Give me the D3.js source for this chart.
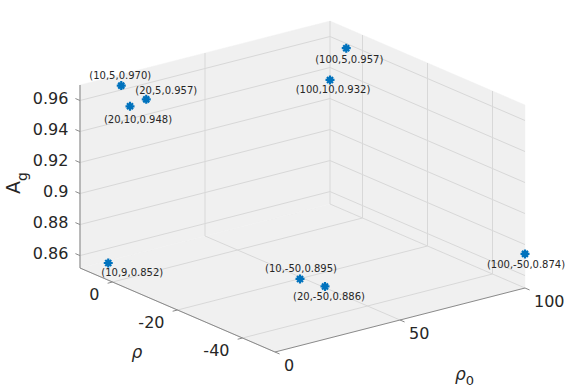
<!DOCTYPE html>
<html><head><meta charset="utf-8">
<script src="https://cdn.jsdelivr.net/npm/d3@7"></script>
<style>
body{margin:0;background:#fff}
text{font-family:"DejaVu Sans",sans-serif;fill:#262626}
</style>
</head><body>
<svg id="c" width="568" height="390"></svg>
<script>
// ---- data ----
const rho0 = [10, 20, 20, 10, 10, 20, 100, 100, 100];
const rho  = [5, 5, 10, 9, -50, -50, -50, 5, 10];
const Ag   = [0.970, 0.957, 0.948, 0.852, 0.895, 0.886, 0.874, 0.957, 0.932];
const xTicks = [0, 50, 100];
const yTicks = [-40, -20, 0];
const zTicks = [0.86, 0.88, 0.90, 0.92, 0.94, 0.96];
const zTickLabels = ["0.86", "0.88", "0.9", "0.92", "0.94", "0.96"];
const xDomain = [0, 100], yDomain = [-50, 10], zDomain = [0.852, 0.970];

// ---- layout (screen projection of the 3D box) ----
const O = [275, 352], EX = [250, -64], EY = [-195, -84], EZ = [0, -183];
const labelOffsets = [[-1,-10],[20,-8.5],[8,13],[24,9],[1,-10.5],[4,10],[1,11],[3,11],[3,10]];

const sx = d3.scaleLinear().domain(xDomain).range([0, 1]);
const sy = d3.scaleLinear().domain(yDomain).range([0, 1]);
const sz = d3.scaleLinear().domain(zDomain).range([0, 1]);
function P(x, y, z) {
  const a = sx(x), b = sy(y), c = sz(z);
  return [O[0] + a*EX[0] + b*EY[0] + c*EZ[0], O[1] + a*EX[1] + b*EY[1] + c*EZ[1]];
}
const [x0, x1] = xDomain, [y0, y1] = yDomain, [z0, z1] = zDomain;
const svg = d3.select("#c");
const line = d3.line();

// walls
const wallColor = "#f0f0f0";
const walls = [
  [P(x0,y0,z0), P(x1,y0,z0), P(x1,y1,z0), P(x0,y1,z0)],   // floor
  [P(x0,y1,z0), P(x1,y1,z0), P(x1,y1,z1), P(x0,y1,z1)],   // back wall
  [P(x1,y0,z0), P(x1,y1,z0), P(x1,y1,z1), P(x1,y0,z1)]    // side wall
];
svg.append("g").selectAll("path").data(walls).join("path")
  .attr("d", d => line(d) + "Z").attr("fill", wallColor).attr("stroke", wallColor).attr("stroke-width", 0.5);

// grid
const grid = [];
xTicks.forEach(x => { grid.push([P(x,y0,z0), P(x,y1,z0)]); grid.push([P(x,y1,z0), P(x,y1,z1)]); });
yTicks.forEach(y => { grid.push([P(x0,y,z0), P(x1,y,z0)]); grid.push([P(x1,y,z0), P(x1,y,z1)]); });
zTicks.forEach(z => { grid.push([P(x0,y1,z), P(x1,y1,z)]); grid.push([P(x1,y0,z), P(x1,y1,z)]); });
svg.append("g").selectAll("path").data(grid).join("path")
  .attr("d", d => line(d)).attr("stroke", "#d8d8d8").attr("stroke-width", 1).attr("fill", "none");

// axis lines
const axisColor = "#8a8a8a";
const axes = [
  [P(x0,y1,z0), P(x0,y1,z1)],
  [P(x0,y0,z0), P(x0,y1,z0)],
  [P(x0,y0,z0), P(x1,y0,z0)]
];
svg.append("g").selectAll("path").data(axes).join("path")
  .attr("d", d => line(d)).attr("stroke", axisColor).attr("stroke-width", 1).attr("fill", "none");

function unit(v){const l=Math.hypot(v[0],v[1]);return [v[0]/l,v[1]/l];}
const tl = 5;
// z ticks
const uz = unit(EY);
const gz = svg.append("g");
zTicks.forEach((z, i) => {
  const p = P(x0, y1, z), q = [p[0] + uz[0]*tl, p[1] + uz[1]*tl];
  gz.append("path").attr("d", line([p, q])).attr("stroke", axisColor).attr("fill","none");
  gz.append("text").attr("x", q[0] - 7).attr("y", q[1]).attr("text-anchor", "end")
    .attr("dominant-baseline", "central").attr("font-size", 16).text(zTickLabels[i]);
});
// y ticks (rho)
const uy = unit([-EX[0], -EX[1]]);
const gy = svg.append("g");
yTicks.forEach(y => {
  const p = P(x0, y, z0), q = [p[0] + uy[0]*tl, p[1] + uy[1]*tl];
  gy.append("path").attr("d", line([p, q])).attr("stroke", axisColor).attr("fill","none");
  gy.append("text").attr("x", p[0] - 13).attr("y", p[1] + 12.5).attr("text-anchor", "end")
    .attr("dominant-baseline", "central").attr("font-size", 16).text(String(y));
});
// x ticks (rho0)
const ux = unit([-EY[0], -EY[1]]);
const gx = svg.append("g");
xTicks.forEach(x => {
  const p = P(x, y0, z0), q = [p[0] + ux[0]*tl, p[1] + ux[1]*tl];
  gx.append("path").attr("d", line([p, q])).attr("stroke", axisColor).attr("fill","none");
  gx.append("text").attr("x", p[0] + 9).attr("y", p[1] + 13.3).attr("text-anchor", "start")
    .attr("dominant-baseline", "central").attr("font-size", 16).text(x);
});

// axis labels
svg.append("text").attr("x", 137).attr("y", 352).attr("text-anchor", "middle")
  .attr("dominant-baseline", "central").attr("font-size", 17).attr("font-style","italic").text("ρ");
const r0 = svg.append("text").attr("x", 455).attr("y", 380).attr("font-size", 17);
r0.append("tspan").attr("font-style","italic").text("ρ");
r0.append("tspan").attr("font-size", 13).attr("dy", 5).text("0");
const ag = svg.append("text").attr("transform", "translate(20,194) rotate(-90)").attr("font-size", 19);
ag.append("tspan").text("A");
ag.append("tspan").attr("font-size", 14).attr("dy", 7).text("g");

// points
const pts = rho0.map((r, i) => ({x: r, y: rho[i], z: Ag[i], off: labelOffsets[i]}));
const gp = svg.append("g");
const blue = "#0072BD";
pts.forEach(d => {
  const [px, py] = P(d.x, d.y, d.z);
  const a = 4.5, b = 3.0;
  gp.append("path").attr("d", `M${px-a},${py}L${px+a},${py}M${px},${py-a}L${px},${py+a}M${px-b},${py-b}L${px+b},${py+b}M${px-b},${py+b}L${px+b},${py-b}`)
    .attr("stroke", blue).attr("stroke-width", 2.2).attr("fill", "none");
  gp.append("text").attr("x", px + d.off[0]).attr("y", py + d.off[1]).attr("text-anchor", "middle")
    .attr("dominant-baseline", "central").attr("font-size", 10)
    .text(`(${d.x},${d.y},${d.z.toFixed(3)})`);
});
</script>
</body></html>
